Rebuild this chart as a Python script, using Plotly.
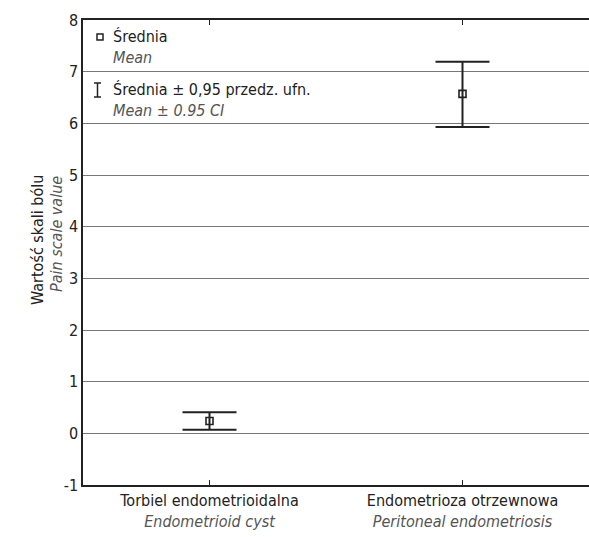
import plotly.graph_objects as go

categories = ["Torbiel endometrioidalna", "Endometrioza otrzewnowa"]
categories_en = ["Endometrioid cyst", "Peritoneal endometriosis"]
means = [0.24, 6.57]
upper = [0.41, 7.19]
lower = [0.07, 5.93]
y_ticks = [-1, 0, 1, 2, 3, 4, 5, 6, 7, 8]
y_ticklabels = ["-1", "0", "1", "2", "3", "4", "5", "6", "7", "8"]

FONT = "Liberation Sans Narrow, DejaVu Sans Condensed, Arial Narrow, sans-serif"
DARK = "#222222"
GREY = "#555555"

xs = list(range(len(categories)))
err_plus = [u - m for u, m in zip(upper, means)]
err_minus = [m - l for m, l in zip(means, lower)]

fig = go.Figure()
fig.add_trace(go.Scatter(
    x=xs, y=means, mode="markers",
    marker=dict(symbol="square-open", size=7, color=DARK, line=dict(width=1.6, color=DARK)),
    error_y=dict(type="data", symmetric=False, array=err_plus, arrayminus=err_minus,
                 color=DARK, thickness=2, width=27),
    showlegend=False, hoverinfo="skip",
))

ticktext = [f"{pl}<br><i><span style='color:{GREY}'>{en}</span></i>" for pl, en in zip(categories, categories_en)]

fig.update_layout(
    width=589, height=537,
    margin=dict(l=83, r=0, t=20, b=52, autoexpand=False),
    paper_bgcolor="white", plot_bgcolor="white",
    font=dict(family=FONT, size=16, color=DARK),
    xaxis=dict(range=[-0.5, 1.5], tickmode="array", tickvals=xs, ticktext=ticktext,
               showgrid=False, zeroline=False, showline=True, linecolor=DARK, linewidth=1.5,
               mirror="ticks", ticks="inside", ticklen=5, tickcolor=DARK, automargin=False,
               tickfont=dict(family=FONT, size=16, color=DARK)),
    yaxis=dict(range=[-1, 8], tickmode="array", tickvals=y_ticks, ticktext=y_ticklabels,
               showgrid=True, gridcolor="#777777", gridwidth=1, zeroline=False,
               showline=True, linecolor=DARK, linewidth=1.5, ticks="", automargin=False,
               tickfont=dict(family=FONT, size=16, color=DARK)),
)

def px2x(px):
    return (px - 83) / 506

def py2y(py):
    return (485 - py) / 465

# Y-axis title (two lines)
fig.add_annotation(x=px2x(37), y=py2y(240), xref="paper", yref="paper", text="Wartość skali bólu",
                   textangle=-90, showarrow=False, xanchor="center", yanchor="middle",
                   font=dict(family=FONT, size=16, color=DARK))
fig.add_annotation(x=px2x(56), y=py2y(234), xref="paper", yref="paper",
                   text="<i>Pain scale value</i>", textangle=-90, showarrow=False,
                   xanchor="center", yanchor="middle",
                   font=dict(family=FONT, size=16, color=GREY))

# Legend texts
leg = [
    (37, "Średnia", DARK, False),
    (58, "Mean", GREY, True),
    (90, "Średnia ± 0,95 przedz. ufn.", DARK, False),
    (111, "Mean ± 0.95 CI", GREY, True),
]
for py, t, c, it in leg:
    fig.add_annotation(x=px2x(111), y=py2y(py), xref="paper", yref="paper", xanchor="left",
                       yanchor="middle", text=(f"<i>{t}</i>" if it else t), showarrow=False,
                       font=dict(family=FONT, size=16, color=c))

# Legend icons
fig.add_shape(type="rect", xref="paper", yref="paper", x0=px2x(97), x1=px2x(103),
              y0=py2y(40), y1=py2y(34), line=dict(color=DARK, width=1.5))
fig.add_shape(type="line", xref="paper", yref="paper", x0=px2x(97.5), x1=px2x(97.5),
              y0=py2y(83), y1=py2y(97), line=dict(color=DARK, width=1.5))
fig.add_shape(type="line", xref="paper", yref="paper", x0=px2x(94), x1=px2x(101),
              y0=py2y(83), y1=py2y(83), line=dict(color=DARK, width=1.5))
fig.add_shape(type="line", xref="paper", yref="paper", x0=px2x(94), x1=px2x(101),
              y0=py2y(97), y1=py2y(97), line=dict(color=DARK, width=1.5))

fig.write_html("out.html", config={"displayModeBar": False},
               post_script="document.body.style.margin='0';document.body.style.overflow='hidden';")
